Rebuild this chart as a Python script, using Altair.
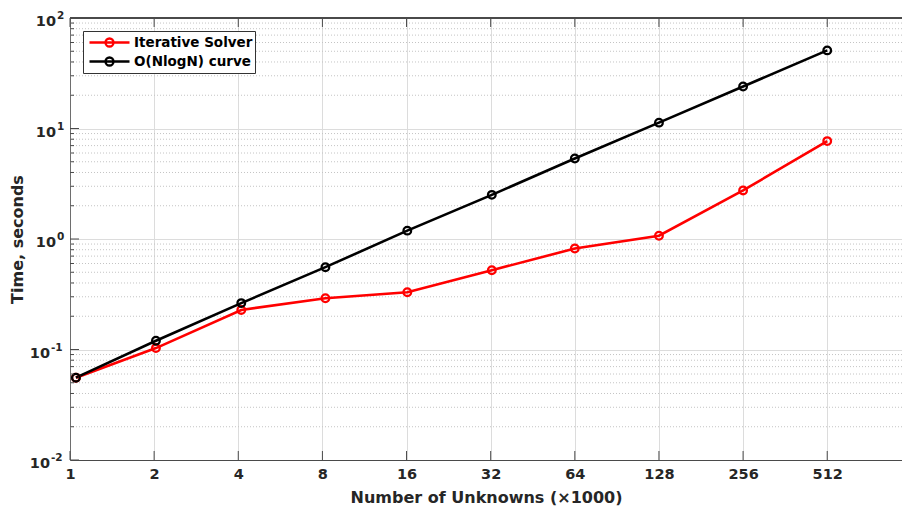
import altair as alt
import pandas as pd

# Problem sizes (thousands of unknowns) and measured run times in seconds
unknowns = [1.05, 2.03, 4.1, 8.2, 16.1, 32.3, 64, 128, 256, 512]
iterative_solver = [0.0556, 0.103, 0.228, 0.291, 0.330, 0.522, 0.820, 1.07, 2.75, 7.69]
nlogn_curve = [0.0556, 0.120, 0.263, 0.556, 1.19, 2.51, 5.35, 11.3, 24.0, 50.9]

series_names = ["Iterative Solver", "O(NlogN) curve"]
series_colors = ["#ff0000", "#000000"]

x_ticks = [1, 2, 4, 8, 16, 32, 64, 128, 256, 512]
y_major = [0.01, 0.1, 1, 10, 100]
y_exponents = ["-2", "-1", "0", "1", "2"]
y_minor = [k * d for d in [0.01, 0.1, 1, 10] for k in range(2, 10)]

W, H = 832, 442
FONT = "DejaVu Sans"
TEXT = "#262626"
AXIS = "#4a4a4a"

df = pd.DataFrame({
    "n": unknowns * 2,
    "t": iterative_solver + nlogn_curve,
    "series": [series_names[0]] * len(unknowns) + [series_names[1]] * len(unknowns),
})
xt = pd.DataFrame({"n": x_ticks})
ymaj = pd.DataFrame({"t": y_major, "e": y_exponents})
ymin = pd.DataFrame({"t": y_minor})

xscale = alt.Scale(type="log", base=2, domain=[1, 948], nice=False)
yscale = alt.Scale(type="log", domain=[0.01, 100], nice=False)

x_axis = alt.Axis(
    values=x_ticks, format="d", grid=True, gridColor="#dcdcdc", gridWidth=1,
    ticks=False, domainColor=AXIS, domainWidth=1,
    labelFont=FONT, labelFontWeight="bold", labelFontSize=14.5, labelColor=TEXT,
    labelPadding=7, labelFlush=False,
    title="Number of Unknowns (\u00d71000)", titleFont=FONT, titleFontWeight="bold",
    titleFontSize=16, titleColor=TEXT, titleBaseline="alphabetic", titleY=42,
)
y_axis = alt.Axis(
    values=y_major, grid=True, gridColor="#dcdcdc", gridWidth=1,
    ticks=False, labels=False, domainColor="#6e6e6e", domainWidth=1,
    title="Time, seconds", titleFont=FONT, titleFontWeight="bold", titleFontSize=16,
    titleColor=TEXT, titleAngle=-90, titleAlign="center", titleBaseline="alphabetic",
    titleX=-48, titleY=H / 2,
)

X = alt.X("n:Q", scale=xscale, axis=x_axis)
Y = alt.Y("t:Q", scale=yscale, axis=y_axis)

# dotted minor grid for the log y axis
minor_grid = alt.Chart(ymin).mark_rule(
    color="#c4c4c4", strokeDash=[1, 2], strokeWidth=1
).encode(y=Y)

# inward ticks: bottom and top for x, left for y
x_ticks_bottom = alt.Chart(xt).mark_rule(color=AXIS, strokeWidth=1).encode(
    x=X, y=alt.value(H), y2=alt.value(H - 9))
x_ticks_top = alt.Chart(xt).mark_rule(color=AXIS, strokeWidth=1).encode(
    x=X, y=alt.value(0), y2=alt.value(9))
y_ticks_major = alt.Chart(ymaj).mark_rule(color=AXIS, strokeWidth=1).encode(
    y=Y, x=alt.value(0), x2=alt.value(9))
y_ticks_minor = alt.Chart(ymin).mark_rule(color=AXIS, strokeWidth=1).encode(
    y=Y, x=alt.value(0), x2=alt.value(4))
top_border = alt.Chart(xt).mark_rule(color=AXIS, strokeWidth=1).encode(
    x=alt.value(0), x2=alt.value(W), y=alt.value(0))

# power-of-ten labels on the y axis: base "10" plus a raised exponent
label_style = dict(font=FONT, fontWeight="bold", color=TEXT, baseline="alphabetic")


def decade_labels(rows, base_right):
    src = alt.Chart(ymaj).transform_filter(rows)
    base = src.mark_text(text="10", align="right", fontSize=14.5, dy=8, **label_style).encode(
        y=Y, x=alt.value(base_right))
    exp = src.mark_text(align="left", fontSize=10.5, dy=1.4, **label_style).encode(
        y=Y, x=alt.value(base_right + 1), text="e:N")
    return [base, exp]


labels_pos = decade_labels("datum.t >= 1", -14)
labels_neg = decade_labels("datum.t < 1", -20)

legend_symbol = "M-0.625,0L4.375,0M1.375,0A0.5,0.5,0,1,1,2.375,0A0.5,0.5,0,1,1,1.375,0"

color = alt.Color(
    "series:N", title=None,
    scale=alt.Scale(domain=series_names, range=series_colors),
    legend=alt.Legend(
        orient="none", legendX=13, legendY=13, padding=2,
        strokeColor="#333333", fillColor="white",
        symbolType=legend_symbol, symbolSize=256, symbolStrokeWidth=2.3,
        symbolFillColor="transparent",
        labelFont=FONT, labelFontWeight="bold", labelFontSize=13.5, labelColor="#000000",
        labelOffset=30, rowPadding=0,
    ),
)

lines = alt.Chart(df).mark_line(strokeWidth=2.6).encode(x=X, y=Y, color=color)
points = alt.Chart(df).mark_point(filled=False, size=58, strokeWidth=2.3, opacity=1).encode(
    x=X, y=Y, color=color)

chart = alt.layer(
    minor_grid, lines, points,
    x_ticks_bottom, x_ticks_top, y_ticks_major, y_ticks_minor, top_border,
    *labels_pos, *labels_neg,
).properties(
    width=W, height=H,
    autosize=alt.AutoSizeParams(type="none"),
    padding={"left": 70, "top": 18, "right": 0, "bottom": 48},
    background="white",
).configure_view(stroke=None)

chart.save("out.html", embed_options={"renderer": "svg", "actions": False})
